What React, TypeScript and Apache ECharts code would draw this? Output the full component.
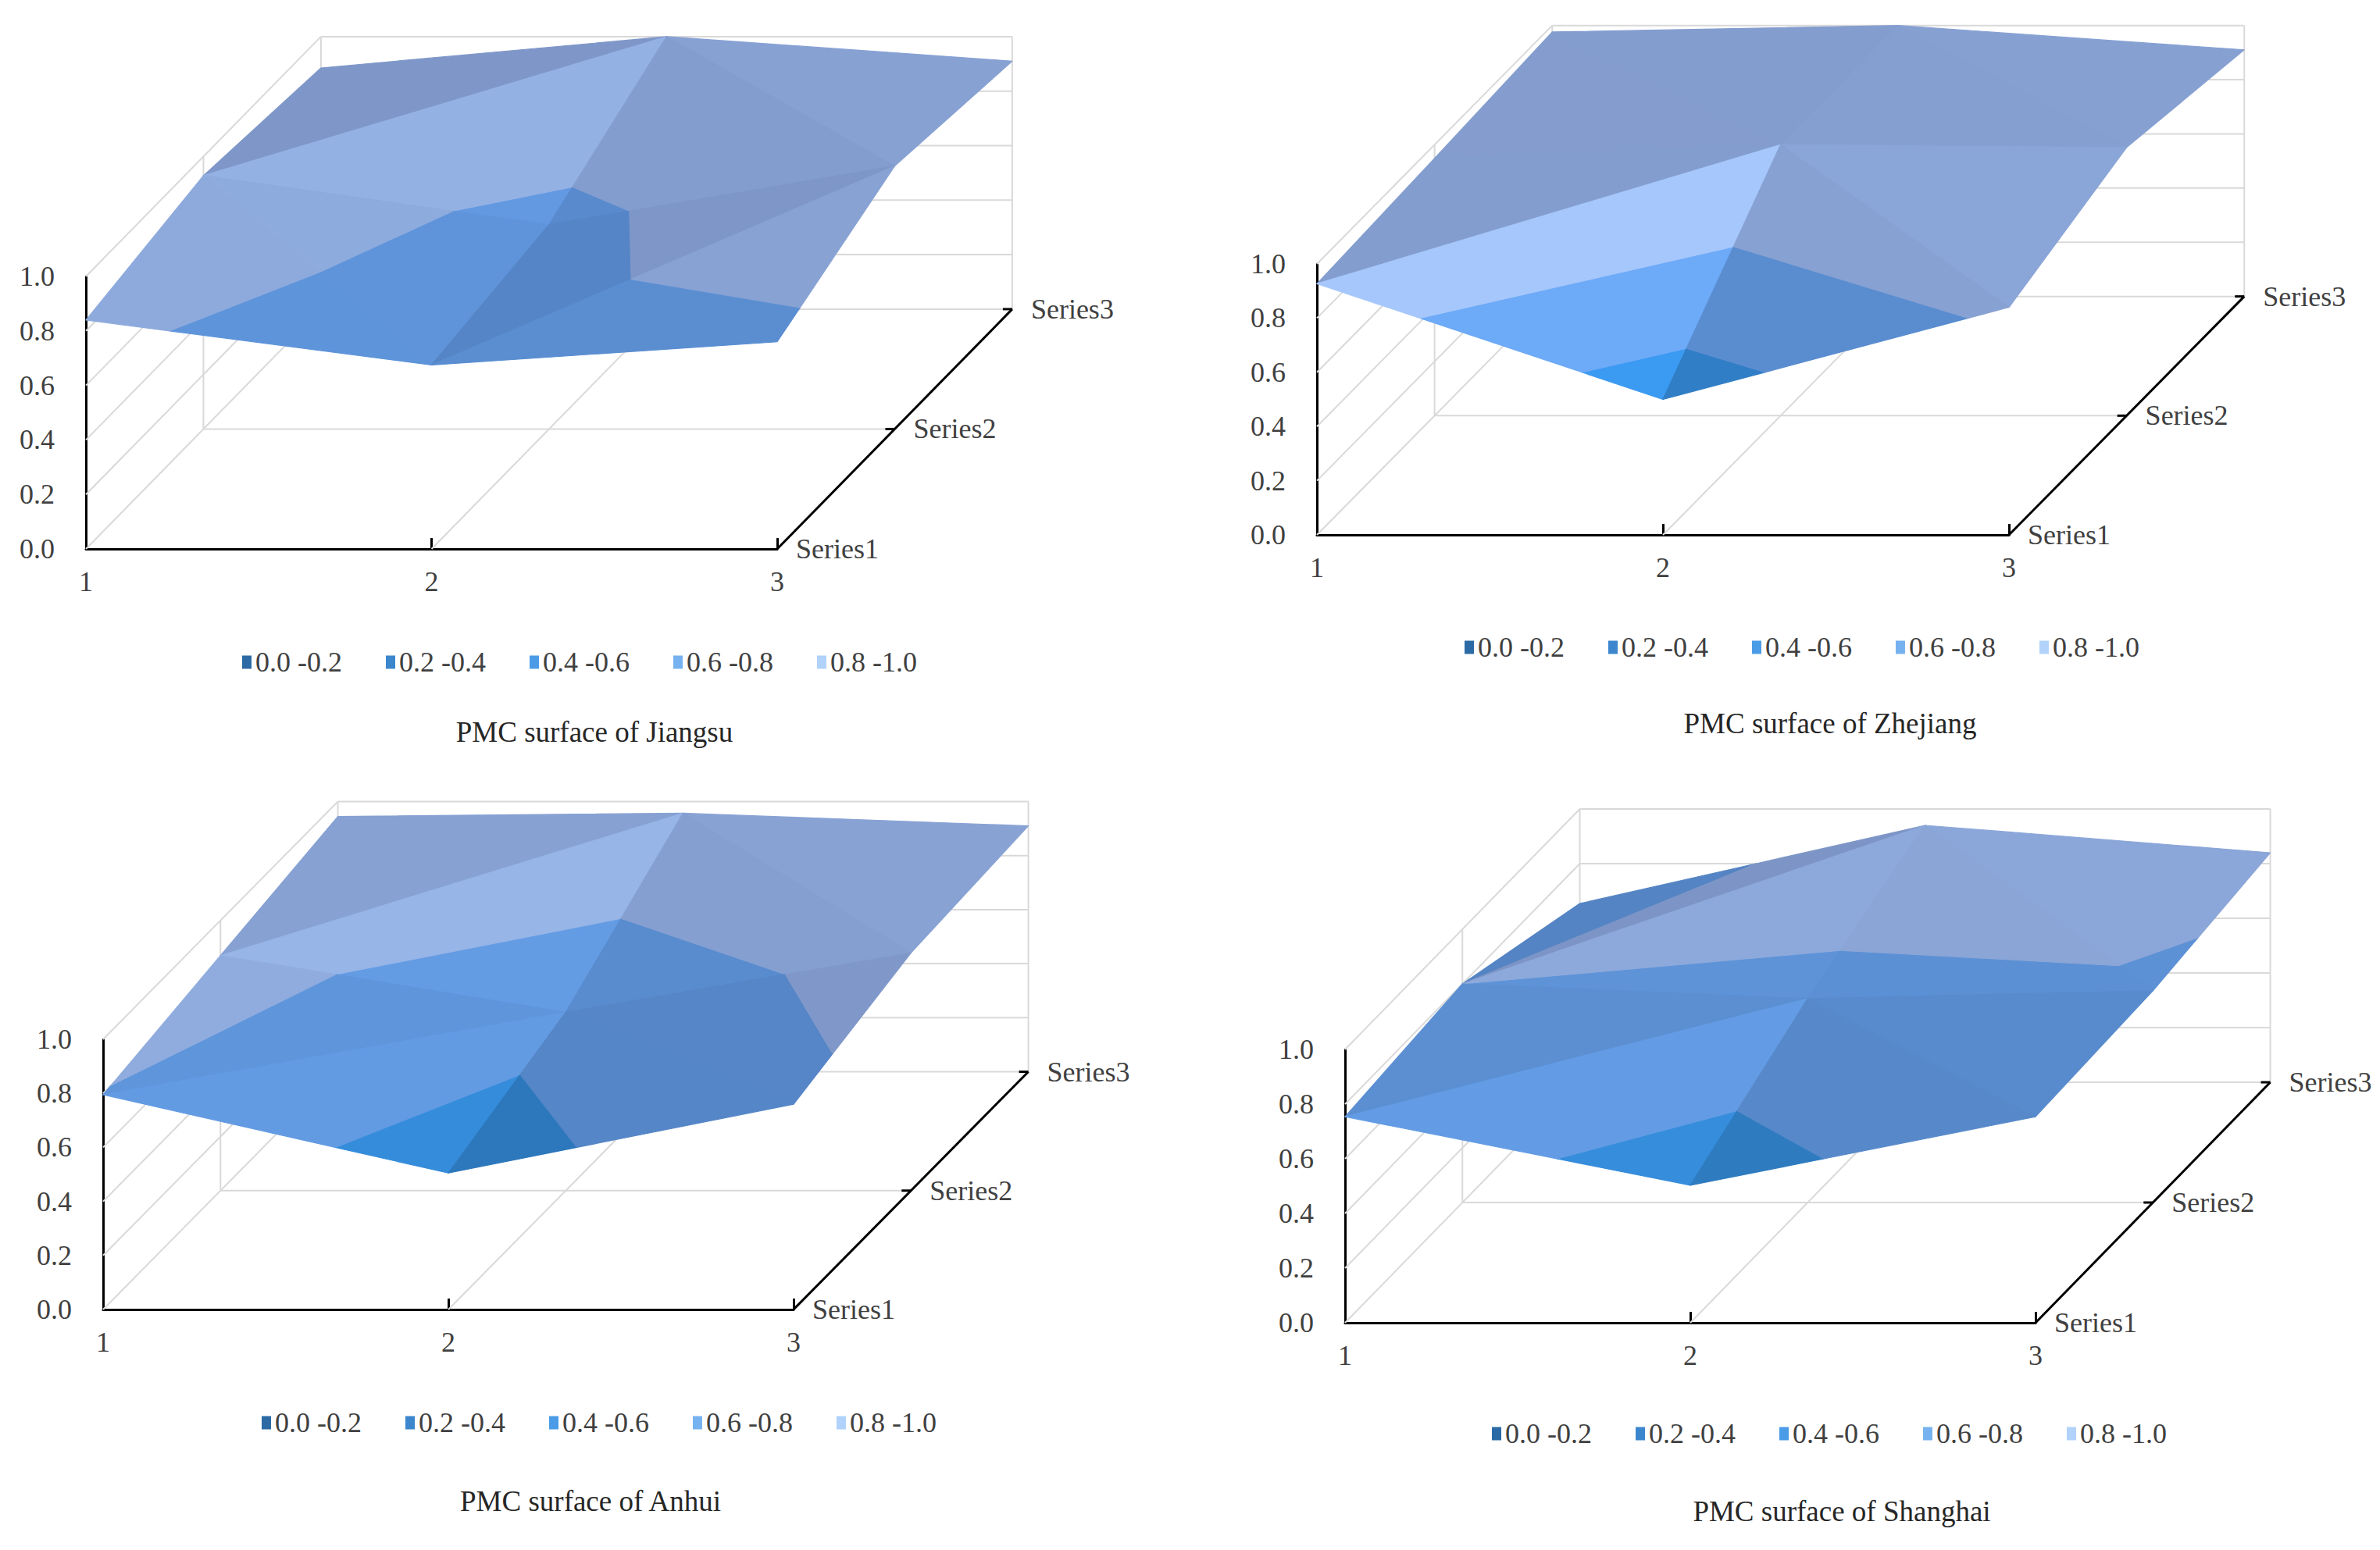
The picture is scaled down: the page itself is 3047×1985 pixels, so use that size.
import React, { useEffect, useRef } from 'react';
import * as echarts from 'echarts';

const FONT = '"Liberation Serif", "Times New Roman", serif';

// front axis categories, depth axis series, value axis ticks
const xCategories = [1, 2, 3];
const seriesNames = ['Series1', 'Series2', 'Series3'];
const valueTicks = [0, 0.2, 0.4, 0.6, 0.8, 1.0];

// colour bands of the surface
const bandNames = ['0.0 -0.2', '0.2 -0.4', '0.4 -0.6', '0.6 -0.8', '0.8 -1.0'];
const bandLegendColors = ['#2c6aa5', '#3b86cd', '#4b9ce6', '#76b2f0', '#b0d2fb'];
const bandShade = ['#22568f', '#2a66a8', '#2c76b9', '#5484c4', '#7d95c6'];
const bandLit = ['#2e72b8', '#3a8ae0', '#3c9cf4', '#6eacfa', '#a8cafe'];

// rows: Series1..Series3, columns: x = 1..3
const jiangsu = [
  [0.84, 0.675, 0.76],
  [0.93, 0.75, 0.965],
  [0.885, 1.0, 0.91],
];
const zhejiang = [
  [0.927, 0.5, 0.84],
  [0.95, 1.0, 0.99],
  [0.976, 1.0, 0.91],
];
const anhui = [
  [0.795, 0.505, 0.76],
  [0.87, 0.66, 0.88],
  [0.945, 0.957, 0.91],
];
const shanghai = [
  [0.754, 0.503, 0.754],
  [0.8, 0.746, 0.775],
  [0.654, 0.94, 0.84],
];

const panels = [
  { title: 'PMC surface of Jiangsu', values: jiangsu },
  { title: 'PMC surface of Zhejiang', values: zhejiang },
  { title: 'PMC surface of Anhui', values: anhui },
  { title: 'PMC surface of Shanghai', values: shanghai },
];

const layouts = [
  { grid: { left: 110, top: 354, width: 885, height: 349 }, legendX: 310, legendY: 830, titleX: 756, titleY: 914 },
  { grid: { left: 1686, top: 338, width: 886, height: 347 }, legendX: 1875, legendY: 811, titleX: 2338, titleY: 903 },
  { grid: { left: 132, top: 1331, width: 884, height: 346 }, legendX: 335, legendY: 1804, titleX: 751, titleY: 1899 },
  { grid: { left: 1722, top: 1344, width: 884, height: 350 }, legendX: 1910, legendY: 1818, titleX: 2353, titleY: 1912 },
];

// oblique projection of the series (depth) axis, as a share of the plot size
const DEPTH_X = 0.34;
const DEPTH_Y = 0.88;
const GRID_COLOR = '#d9d9d9';

type P3 = [number, number, number]; // x value, series index, value

function project(api: any, x: number, s: number, v: number) {
  const p = api.coord([x, v]);
  const o = api.coord([xCategories[0], valueTicks[0]]);
  const e = api.coord([xCategories[xCategories.length - 1], valueTicks[valueTicks.length - 1]]);
  const w = e[0] - o[0];
  const h = o[1] - e[1];
  const f = s / (seriesNames.length - 1);
  return [p[0] + f * DEPTH_X * w, p[1] - f * DEPTH_Y * h];
}

function clipPoly(poly: P3[], f: (p: P3) => number): P3[] {
  const out: P3[] = [];
  for (let k = 0; k < poly.length; k++) {
    const a = poly[k];
    const b = poly[(k + 1) % poly.length];
    const fa = f(a);
    const fb = f(b);
    if (fa >= 0) out.push(a);
    if ((fa >= 0) !== (fb >= 0)) {
      const t = fa / (fa - fb);
      out.push([a[0] + t * (b[0] - a[0]), a[1] + t * (b[1] - a[1]), a[2] + t * (b[2] - a[2])]);
    }
  }
  return out;
}

function mix(c1: string, c2: string, t: number) {
  const a = parseInt(c1.slice(1), 16);
  const b = parseInt(c2.slice(1), 16);
  const ch = (sh: number) => Math.round(((a >> sh) & 255) * (1 - t) + ((b >> sh) & 255) * t);
  return `rgb(${ch(16)},${ch(8)},${ch(0)})`;
}

// slope of a facet along the front axis (gx) and the depth axis (gd)
function slope(p: P3[]) {
  const u = [p[1][0] - p[0][0], p[1][1] - p[0][1], p[1][2] - p[0][2]];
  const w = [p[2][0] - p[0][0], p[2][1] - p[0][1], p[2][2] - p[0][2]];
  const det = u[0] * w[1] - u[1] * w[0];
  return { gx: (u[2] * w[1] - u[1] * w[2]) / det, gd: (u[0] * w[2] - u[2] * w[0]) / det };
}

function surfaceItem(values: number[][]) {
  return (params: any, api: any) => {
    const x0 = api.value(0);
    const s0 = api.value(1);
    const i = xCategories.indexOf(x0);
    const at = (ii: number, jj: number): P3 => [xCategories[ii], jj, values[jj][ii]];
    const a = at(i, s0);
    const b = at(i, s0 + 1);
    const c = at(i + 1, s0 + 1);
    const d = at(i + 1, s0);
    // split the cell along the diagonal whose corners are higher, back facet first
    const tris: P3[][] = a[2] + c[2] >= b[2] + d[2] ? [[a, b, c], [a, d, c]] : [[d, c, b], [a, d, b]];
    const children: any[] = [];
    tris.forEach((tri) => {
      const g = slope(tri);
      // light falls from the front right
      const t = Math.max(0, Math.min(1, 0.18 - 0.95 * g.gx + 0.73 * g.gd));
      for (let k = 0; k < bandNames.length; k++) {
        const lo = valueTicks[k];
        const hi = valueTicks[k + 1];
        let poly = clipPoly(tri, (p) => p[2] - lo);
        poly = clipPoly(poly, (p) => hi - p[2]);
        if (poly.length < 3) continue;
        const color = mix(bandShade[k], bandLit[k], t);
        children.push({
          type: 'polygon',
          shape: { points: poly.map((p) => project(api, p[0], p[1], p[2])) },
          style: { fill: color, stroke: color, lineWidth: 1.2, lineJoin: 'round' },
        });
      }
    });
    return { type: 'group', children };
  };
}

function frameItem(params: any, api: any) {
  const P = (x: number, s: number, v: number) => project(api, x, s, v);
  const xFirst = xCategories[0];
  const xLast = xCategories[xCategories.length - 1];
  const sLast = seriesNames.length - 1;
  const vTop = valueTicks[valueTicks.length - 1];
  const line = (p: number[], q: number[], color: string, width: number) => ({
    type: 'line',
    shape: { x1: p[0], y1: p[1], x2: q[0], y2: q[1] },
    style: { stroke: color, lineWidth: width },
  });
  const children: any[] = [];
  valueTicks.forEach((v) => {
    children.push(line(P(xFirst, sLast, v), P(xLast, sLast, v), GRID_COLOR, 2));
    children.push(line(P(xFirst, 0, v), P(xFirst, sLast, v), GRID_COLOR, 2));
  });
  children.push(line(P(xFirst, sLast, 0), P(xFirst, sLast, vTop), GRID_COLOR, 2));
  children.push(line(P(xLast, sLast, 0), P(xLast, sLast, vTop), GRID_COLOR, 2));
  for (let s = 1; s < sLast; s++) {
    children.push(line(P(xFirst, s, 0), P(xFirst, s, vTop), GRID_COLOR, 2));
    children.push(line(P(xFirst, s, 0), P(xLast, s, 0), GRID_COLOR, 2));
  }
  xCategories.slice(1, -1).forEach((x) => {
    children.push(line(P(x, 0, 0), P(x, sLast, 0), GRID_COLOR, 2));
  });
  children.push(line(P(xLast, 0, 0), P(xLast, sLast, 0), '#000', 3));
  seriesNames.forEach((name, s) => {
    const p = P(xLast, s, 0);
    if (s > 0) children.push(line([p[0] - 12, p[1]], p, '#000', 3));
    children.push({
      type: 'text',
      x: p[0] + 24,
      y: p[1],
      style: {
        text: name,
        fill: '#404040',
        fontSize: 36,
        fontFamily: FONT,
        align: 'left',
        verticalAlign: 'middle',
      },
    });
  });
  return { type: 'group', children };
}

// cells drawn from the back row to the front row
const cells: number[][] = [];
for (let s = seriesNames.length - 2; s >= 0; s--) {
  for (let i = 0; i < xCategories.length - 1; i++) cells.push([xCategories[i], s]);
}

const App: React.FC = () => {
  const chartRef = useRef<HTMLDivElement>(null);

  useEffect(() => {
    if (!chartRef.current) return;
    const chart = echarts.init(chartRef.current, undefined, { renderer: 'svg' });

    const axisText = { fontSize: 36, fontFamily: FONT, color: '#404040' };
    const option: any = {
      animation: false,
      backgroundColor: '#ffffff',
      title: panels.map((p, k) => ({
        text: p.title,
        left: layouts[k].titleX,
        top: layouts[k].titleY,
        textAlign: 'center',
        textStyle: { fontSize: 37, fontWeight: 'normal', fontFamily: FONT, color: '#262626' },
      })),
      legend: panels.map((p, k) => ({
        data: bandNames,
        left: layouts[k].legendX,
        top: layouts[k].legendY,
        icon: 'rect',
        itemWidth: 12,
        itemHeight: 17,
        itemGap: 56,
        padding: 0,
        selectedMode: false,
        textStyle: { ...axisText },
      })),
      grid: layouts.map((l) => ({ ...l.grid })),
      xAxis: layouts.map((l, k) => ({
        type: 'value',
        gridIndex: k,
        min: xCategories[0],
        max: xCategories[xCategories.length - 1],
        interval: 1,
        axisLine: { onZero: false, lineStyle: { color: '#000', width: 3 } },
        axisTick: { inside: true, length: 14, lineStyle: { color: '#000', width: 3 } },
        axisLabel: { ...axisText, margin: 24 },
        splitLine: { show: false },
      })),
      yAxis: layouts.map((l, k) => ({
        type: 'value',
        gridIndex: k,
        min: valueTicks[0],
        max: valueTicks[valueTicks.length - 1],
        interval: 0.2,
        axisLine: { show: true, lineStyle: { color: '#000', width: 3 } },
        axisTick: { show: false },
        axisLabel: { ...axisText, margin: 40, formatter: (v: number) => v.toFixed(1) },
        splitLine: { show: false },
      })),
      series: [
        ...panels.map((p, k) => ({
          type: 'custom',
          name: 'frame' + k,
          xAxisIndex: k,
          yAxisIndex: k,
          clip: false,
          silent: true,
          z: 1,
          data: [[xCategories[0], 0]],
          renderItem: frameItem,
        })),
        ...panels.map((p, k) => ({
          type: 'custom',
          name: 'surface' + k,
          xAxisIndex: k,
          yAxisIndex: k,
          clip: false,
          silent: true,
          z: 2,
          data: cells,
          renderItem: surfaceItem(p.values),
        })),
        ...bandNames.map((name, b) => ({
          type: 'bar',
          name,
          xAxisIndex: 0,
          yAxisIndex: 0,
          data: [],
          itemStyle: { color: bandLegendColors[b] },
        })),
      ],
    };

    chart.setOption(option);
    return () => {
      chart.dispose();
    };
  }, []);

  return (
    <div
      ref={chartRef}
      style={{ position: 'fixed', left: 0, top: 0, width: 3047, height: 1985, background: '#fff' }}
    />
  );
};

export default App;
